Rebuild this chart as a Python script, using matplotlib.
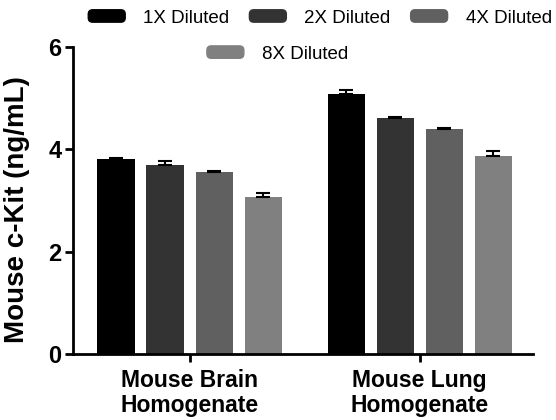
import matplotlib.pyplot as plt
import matplotlib.patches as mpatches
from matplotlib.legend_handler import HandlerPatch
import numpy as np

plt.rcParams['font.family'] = ['Liberation Sans', 'DejaVu Sans']

# Data
groups = ['Mouse Brain\nHomogenate', 'Mouse Lung\nHomogenate']
series = ['1X Diluted', '2X Diluted', '4X Diluted', '8X Diluted']
values = [[3.82, 5.08],
          [3.70, 4.61],
          [3.56, 4.39],
          [3.06, 3.87]]
errors = [[0.01, 0.08],
          [0.07, 0.02],
          [0.02, 0.02],
          [0.09, 0.10]]
colors = ['#000000', '#333333', '#606060', '#808080']

fig = plt.figure(figsize=(5.56, 4.2), dpi=100)
ax = fig.add_axes([0.131, 0.157, 0.828, 0.731])

x = np.arange(len(groups))
width = 0.161
step = 0.213
for i, name in enumerate(series):
    pos = x + (i - 1.5) * step
    ax.bar(pos, values[i], width, color=colors[i], label=name, zorder=2)
    ax.errorbar(pos, values[i], yerr=[np.zeros(len(groups)), errors[i]],
                fmt='none', ecolor='black', elinewidth=1.5, capsize=5,
                capthick=1.5, zorder=3)

ax.set_xlim(-0.507, 1.493)
ax.set_ylim(0, 6)
ax.set_yticks([0, 2, 4, 6])
ax.set_xticks(x)
ax.set_xticklabels(groups, fontsize=16.5, fontweight='bold', linespacing=1.1)
for lbl in ax.get_yticklabels():
    lbl.set_fontweight('bold')
    lbl.set_fontsize(17)

fig.text(17 / 556, 1 - 210 / 420, 'Mouse c-Kit (ng/mL)', rotation=90,
         ha='center', va='center', fontsize=20, fontweight='bold')

for s in ['top', 'right']:
    ax.spines[s].set_visible(False)
for s in ['left', 'bottom']:
    ax.spines[s].set_linewidth(2)
ax.tick_params(axis='both', width=2, length=6, direction='out', pad=2)
ax.tick_params(axis='x', pad=5)


# rounded legend swatches
def rounded(legend, orig_handle, xdescent, ydescent, width, height, fontsize):
    return mpatches.FancyBboxPatch((-xdescent, -ydescent), width, height,
                                   boxstyle=mpatches.BoxStyle('Round', pad=0,
                                                              rounding_size=height * 0.35))


handler = {mpatches.Patch: HandlerPatch(patch_func=rounded)}
handles = [mpatches.Patch(color=c) for c in colors]
opts = dict(loc='center', frameon=False, fontsize=13.5, handlelength=1.97,
            handleheight=0.64, handletextpad=0.96, handler_map=handler)
leg1 = fig.legend(handles[:3], series[:3], ncol=3, columnspacing=1.07,
                  bbox_to_anchor=(320 / 556, 0.957), **opts)
leg2 = fig.legend(handles[3:], series[3:],
                  bbox_to_anchor=(277.5 / 556, 0.871), **opts)

fig.savefig('out.png', dpi=100)
